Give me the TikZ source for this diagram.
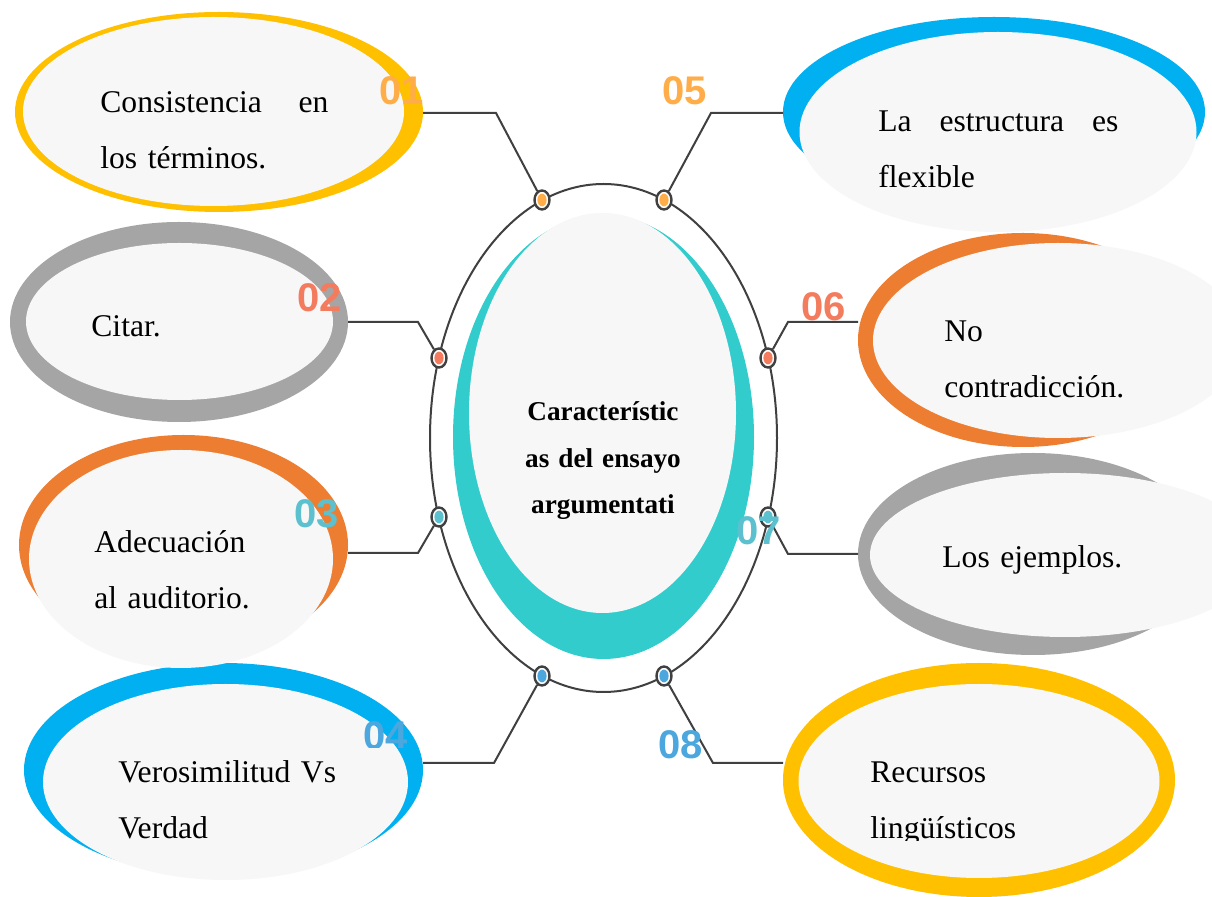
\documentclass[tikz,border=0pt]{standalone}
\usepackage{fontspec}
\setmainfont{Liberation Serif}
\newfontfamily\numfont{Liberation Sans}
\usetikzlibrary{shapes.geometric}

\definecolor{ylw}{HTML}{FFC000}
\definecolor{sky}{HTML}{00B0F0}
\definecolor{ash}{HTML}{A5A5A5}
\definecolor{ora}{HTML}{ED7D31}
\definecolor{pale}{HTML}{F7F7F7}
\definecolor{aqua}{HTML}{33CCCC}
\definecolor{wire}{HTML}{404040}
\definecolor{numA}{HTML}{FFAD48}
\definecolor{numB}{HTML}{F47C5E}
\definecolor{numC}{HTML}{5CC0CF}
\definecolor{numD}{HTML}{4BA7DE}

\tikzset{
  blob/.style={ellipse, inner sep=0pt, outer sep=0pt},
  ring/.style={blob, fill=#1},
  pad/.style={blob, fill=pale},
  dot/.style={ellipse, draw=wire, line width=1.2pt, fill=white, minimum width=7.5pt, minimum height=9.5pt, inner sep=0pt,
    path picture={\fill[#1] (path picture bounding box.center) ellipse [x radius=2.3pt, y radius=3.2pt];}},
  num/.style={text=#1, inner sep=0pt, font=\numfont\bfseries\fontsize{20}{20}\selectfont},
  txt/.style={anchor=base west, inner sep=0pt, align=left, text width=#1, font=\fontsize{15.8}{28}\selectfont},
  txt/.default=150pt,
  link/.style={draw=wire, line width=1pt},
}

\begin{document}
\begin{tikzpicture}[x=0.5pt, y=-0.5pt]
\clip (0,0) rectangle (1212,897);
\fill[white] (0,0) rectangle (1212,897);

% left side
\node[ring=sky, minimum width=199.5pt, minimum height=107pt] (r4) at (223.5,770) {};
\node[pad, minimum width=182.5pt, minimum height=98pt] (p4) at (225.5,782) {};
\node[ring=ora, minimum width=164.5pt, minimum height=110pt] (r3) at (183.5,545) {};
\node[pad, minimum width=152pt, minimum height=109pt] (p3) at (181,559) {};
\node[ring=ash, minimum width=169pt, minimum height=100pt] (r2) at (179,322) {};
\node[pad, minimum width=153.5pt, minimum height=78.5pt] (p2) at (179.5,321.5) {};
\node[ring=ylw, minimum width=204pt, minimum height=100pt] (r1) at (219,112) {};
\node[pad, minimum width=190.5pt, minimum height=94.5pt] (p1) at (213.5,111.5) {};

% right side
\node[ring=ylw, minimum width=196pt, minimum height=117pt] (r8) at (979,780) {};
\node[pad, minimum width=180.5pt, minimum height=97pt] (p8) at (979,781) {};
\node[ring=ash, minimum width=175pt, minimum height=101pt] (r7) at (1033,554) {};
\node[pad, minimum width=195pt, minimum height=82pt] (p7) at (1065,555) {};
\node[ring=ora, minimum width=165pt, minimum height=107pt] (r6) at (1023,340) {};
\node[pad, minimum width=185pt, minimum height=97.5pt] (p6) at (1058,340.5) {};
\node[ring=sky, minimum width=211pt, minimum height=95pt] (r5) at (994,112) {};
\node[pad, minimum width=198.5pt, minimum height=100pt] (p5) at (998,132) {};

% centre
\node[blob, draw=wire, line width=1pt, minimum width=173.5pt, minimum height=254pt] (hub) at (603.5,438) {};
\node[ring=aqua, minimum width=150.5pt, minimum height=222pt] (moon) at (603.5,437) {};
\node[pad, minimum width=133.5pt, minimum height=200pt] (core) at (602.5,413) {};
\node[anchor=base, inner sep=0pt, align=center, text width=160pt,
  font=\bfseries\fontsize{13.6}{23.25}\selectfont] (title) at (603,421) {Característic\\as del ensayo\\argumentati};

% dots on the hub
\node[dot=numA] (d1) at (542,200) {};
\node[dot=numA] (d5) at (664,200) {};
\node[dot=numB] (d2) at (439,358) {};
\node[dot=numB] (d6) at (768,358) {};
\node[dot=numC] (d3) at (439,517) {};
\node[dot=numC] (d7) at (768,517) {};
\node[dot=numD] (d4) at (542,676) {};
\node[dot=numD] (d8) at (664,676) {};

\coordinate (k1) at (496,113);
\coordinate (k5) at (711,113);
\coordinate (k2) at (418,322);
\coordinate (k6) at (788,322);
\coordinate (k3) at (418,553);
\coordinate (k7) at (788,554);
\coordinate (k4) at (494,763);
\coordinate (k8) at (713,763);

\draw[link] (d1) -- (k1) -- (k1 -| r1.east);
\draw[link] (d5) -- (k5) -- (k5 -| r5.west);
\draw[link] (d2) -- (k2) -- (k2 -| r2.east);
\draw[link] (d6) -- (k6) -- (k6 -| r6.west);
\draw[link] (d3) -- (k3) -- (k3 -| r3.east);
\draw[link] (d7) -- (k7) -- (k7 -| r7.west);
\draw[link] (d4) -- (k4) -- (k4 -| r4.east);
\draw[link] (d8) -- (k8) -- (k8 -| r8.west);

% texts
\node[txt=114pt] (t1) at (100,113) {Consistencia\hfill en\\los términos.};
\node[txt=120pt] (t5) at (878,132) {La\hfill estructura\hfill es\\flexible};
\node[txt] (t2) at (91,337) {Citar.};
\node[txt] (t6) at (944,342) {No\\contradicción.};
\node[txt] (t3) at (94,553) {Adecuación\\al auditorio.};
\node[txt] (t7) at (942,568) {Los ejemplos.};
\node[txt] (t4) at (118,783) {Verosimilitud Vs\\Verdad};
\begin{scope}
\clip (860,740) rectangle (1100,841);
\node[txt] (t8) at (870,783) {Recursos\\lingüísticos};
\end{scope}

% numbers
\node[num=numA] (n1) at (402,91) {01};
\node[num=numA] (n5) at (685,91) {05};
\node[num=numB] (n2) at (320,298) {02};
\node[num=numB] (n6) at (824,307) {06};
\node[num=numC] (n3) at (317,514) {03};
\node[num=numC] (n7) at (759,531) {07};
\begin{scope}
\clip (350,700) rectangle (430,748);
\node[num=numD] (n4) at (386,736) {04};
\end{scope}
\node[num=numD] (n8) at (681,745) {08};
\end{tikzpicture}
\end{document}
